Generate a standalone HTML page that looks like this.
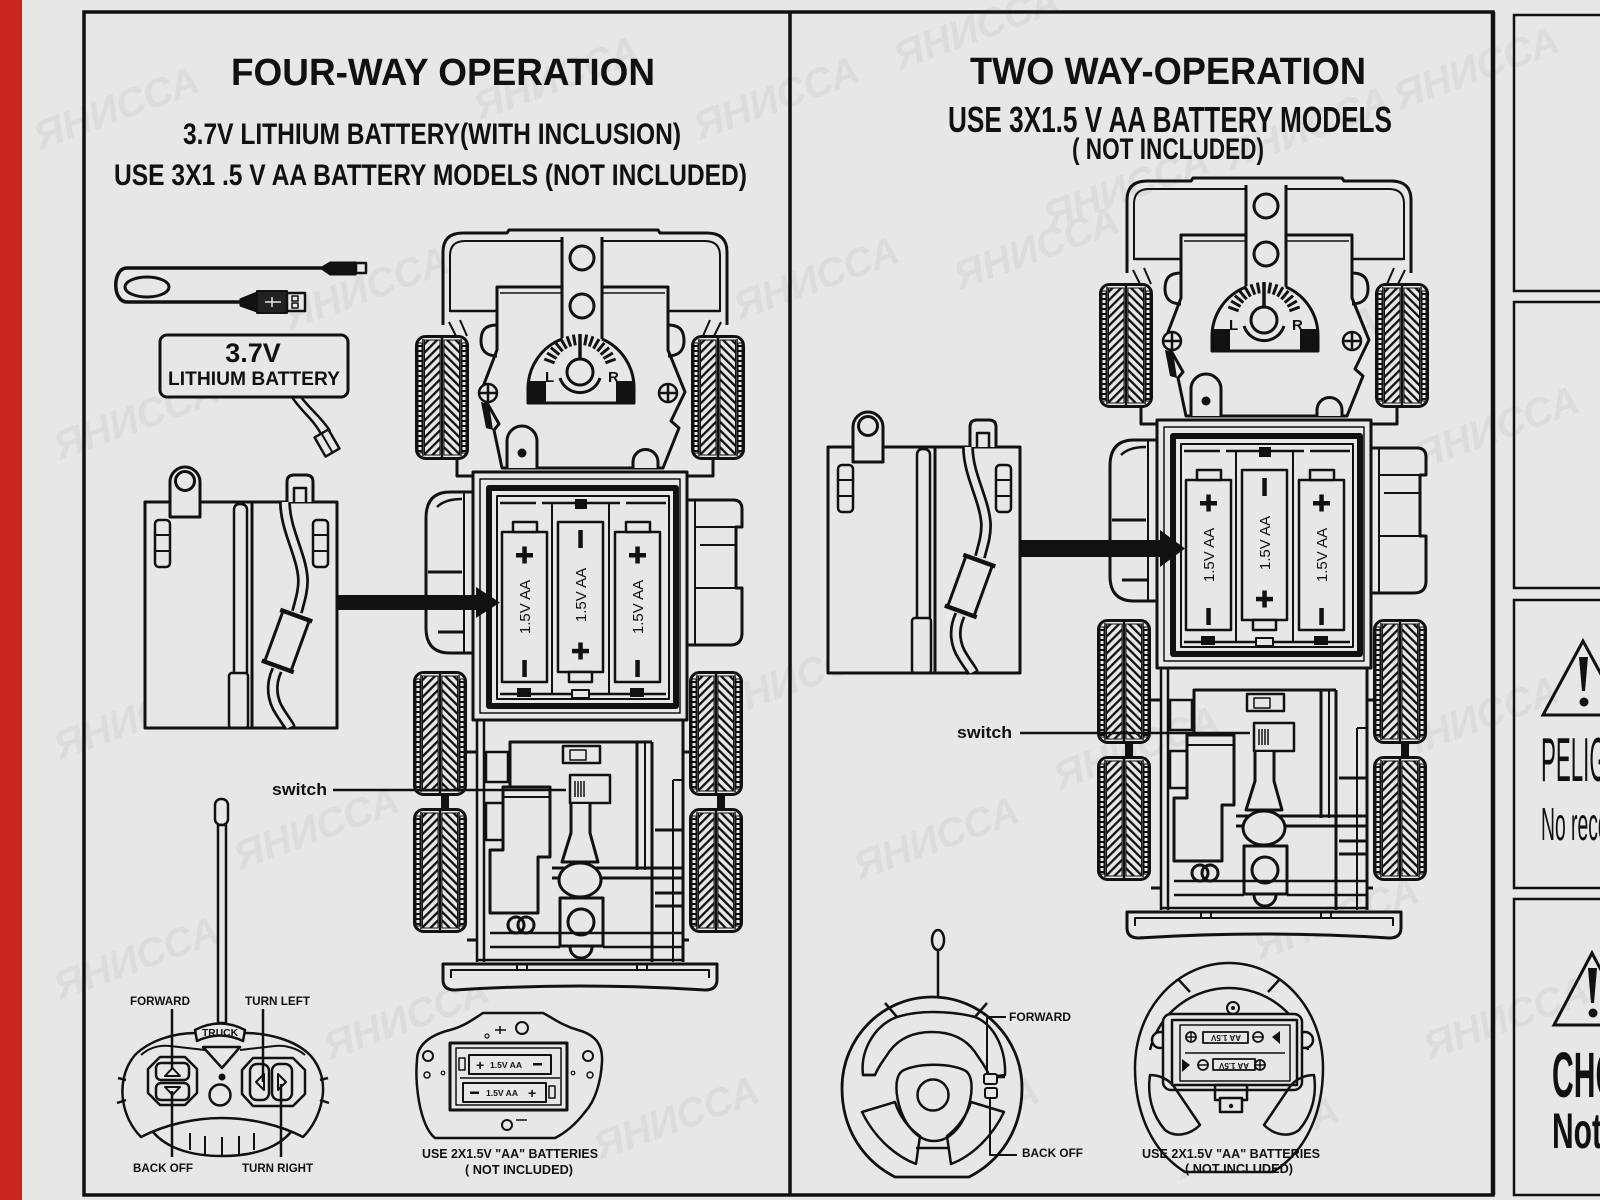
<!DOCTYPE html>
<html><head><meta charset="utf-8"><title>Four-way / Two-way operation</title>
<style>
html,body{margin:0;padding:0;background:#e7e7e5;}
svg{display:block;}
text{font-family:"Liberation Sans",Arial,sans-serif;}
</style></head><body>
<svg width="1600" height="1200" viewBox="0 0 1600 1200" xmlns="http://www.w3.org/2000/svg">
<defs>
<pattern id="hA" width="6" height="6" patternUnits="userSpaceOnUse" patternTransform="rotate(45)"><rect width="2.3" height="6" fill="#111"/></pattern>
<pattern id="hB" width="6" height="6" patternUnits="userSpaceOnUse" patternTransform="rotate(-45)"><rect width="2.3" height="6" fill="#111"/></pattern>
<pattern id="tk" width="6" height="5" patternUnits="userSpaceOnUse"><rect width="6" height="2" fill="#111"/></pattern>

<g id="wheel">
 <rect x="1.5" y="1.5" width="51" height="122" rx="9" fill="#e7e7e5" stroke="#111" stroke-width="3"/>
 <rect x="3" y="8" width="4" height="110" fill="url(#tk)"/>
 <rect x="47" y="8" width="4" height="110" fill="url(#tk)"/>
 <line x1="8" y1="4" x2="8" y2="121" stroke="#111" stroke-width="1.5"/>
 <line x1="46" y1="4" x2="46" y2="121" stroke="#111" stroke-width="1.5"/>
 <rect x="9.5" y="5" width="15.5" height="115" fill="url(#hA)"/>
 <rect x="29" y="5" width="15.5" height="115" fill="url(#hB)"/>
 <line x1="27" y1="3" x2="27" y2="122" stroke="#111" stroke-width="2.5"/>
</g>

<g id="truck" stroke="#111" fill="none" stroke-linejoin="round">
 <use href="#wheel" x="415" y="335"/>
 <use href="#wheel" x="691" y="335"/>
 <use href="#wheel" x="413" y="671"/>
 <use href="#wheel" x="413" y="808"/>
 <use href="#wheel" x="689" y="671"/>
 <use href="#wheel" x="689" y="808"/>
 <rect x="441" y="795" width="8" height="14" fill="#111" stroke="none"/>
 <rect x="717" y="795" width="8" height="14" fill="#111" stroke="none"/>
 <!-- hood -->
 <path d="M443,325 V252 Q443,233 463,233 H507 L509,230 H658 L660,233 H707 Q727,233 727,252 V325" stroke-width="3"/>
 <path d="M450,312 V256 Q450,241 465,241 H705 Q720,241 720,256 V312" stroke-width="2"/>
 <path d="M450,311 H497 M668,311 H720" stroke-width="2.5"/>
 <path d="M449,322 L456,336 M460,320 L467,336 M721,322 L714,336 M710,320 L703,336" stroke-width="2"/>
 <!-- body -->
 <path d="M497,287 H668 V350 L685,392 L671,421 L679,428 L663,468 H502 L494,430 L499,424 L481,392 L497,350 Z" fill="#e7e7e5" stroke-width="3"/>
 <path d="M500,293 H562 M603,293 H665" stroke-width="1.5"/>
 <path d="M497,325 C483,325 481,333 481,341 C481,349 485,356 497,356" stroke-width="3"/>
 <path d="M668,325 C682,325 684,333 684,341 C684,349 680,356 668,356" stroke-width="3"/>
 <polygon points="481,402 489,404 493,430 486,428" fill="#111" stroke="none"/>
 <!-- strip -->
 <rect x="562" y="236" width="40" height="106" fill="#e7e7e5" stroke="none"/>
 <path d="M562,237 V340 M602,237 V340" stroke-width="3"/>
 <circle cx="582" cy="258" r="12" stroke-width="3"/>
 <circle cx="582" cy="306" r="12" stroke-width="3"/>
 <!-- gauge housing -->
 <path d="M528,403 V388 A53,53 0 0 1 634,388 V403 Z" fill="#e7e7e5" stroke="none"/>
 <rect x="564" y="330" width="36" height="15" fill="#e7e7e5" stroke="none"/>
 <path d="M562,339 A53,53 0 0 0 528,388 V403 H634 V388 A53,53 0 0 0 602,339" stroke-width="3"/>
 <rect x="528" y="381" width="18" height="22" fill="#111" stroke="none"/>
 <rect x="616" y="381" width="18" height="22" fill="#111" stroke="none"/>
 <path d="M605.4,362.8 L615.7,359 M603.4,358.5 L612.9,353 M600.7,354.6 L609.1,347.6 M597.4,351.3 L604.4,342.9 M593.5,348.6 L599,339.1 M589.2,346.6 L593,336.3 M584.7,345.4 L586.6,334.6 M575.3,345.4 L573.4,334.6 M570.8,346.6 L567,336.3 M566.5,348.6 L561,339.1 M562.6,351.3 L555.6,342.9 M559.3,354.6 L550.9,347.6 M556.6,358.5 L547.1,353 M554.6,362.8 L544.3,359" stroke-width="3"/>
 <path d="M580,334 V359" stroke-width="3.5"/>
 <circle cx="580" cy="372" r="13" stroke-width="3"/>
 <path d="M560,378 A21,21 0 0 0 600,378" stroke-width="3"/>
 <text x="545" y="382" font-size="15" font-weight="bold" fill="#111" stroke="none">L</text>
 <text x="608" y="382" font-size="15" font-weight="bold" fill="#111" stroke="none">R</text>
 <!-- screws -->
 <circle cx="488" cy="393" r="9" fill="#e7e7e5" stroke-width="2.5"/>
 <path d="M480,393 H496 M488,385 V401" stroke-width="2.5"/>
 <circle cx="668" cy="393" r="9" fill="#e7e7e5" stroke-width="2.5"/>
 <path d="M660,393 H676 M668,385 V401" stroke-width="2.5"/>
 <!-- tabs -->
 <path d="M507,468 V441 A15,15 0 0 1 537,441 V468" fill="#e7e7e5" stroke-width="3"/>
 <circle cx="522" cy="453" r="4.5" fill="#111" stroke="none"/>
 <path d="M633,468 V462 A12.5,12.5 0 0 1 658,462 V468" fill="#e7e7e5" stroke-width="3"/>
 <path d="M457,460 V476 H473 M713,460 V476 H687" stroke-width="3"/>
 <!-- fender left -->
 <path d="M473,492 H450 Q426,492 426,518 V628 Q426,653 450,653 H473" fill="#e7e7e5" stroke-width="3"/>
 <path d="M437,507 Q445,499 462,499" stroke-width="2.5"/>
 <path d="M428,572 H462 M438,632 H463" stroke-width="3"/>
 <path d="M464,492 V653" stroke-width="2"/>
 <!-- right block -->
 <path d="M687,500 H733 Q742,500 742,509 V527 H736 V588 H742 V633 Q742,645 730,645 H687" fill="#e7e7e5" stroke-width="3"/>
 <path d="M695,527 H736 M695,588 H736 M695,500 V645 M700,545 H736" stroke-width="2"/>
 <!-- battery box -->
 <rect x="473" y="472" width="214" height="248" fill="#e7e7e5" stroke-width="3"/>
 <rect x="480" y="479" width="200" height="234" stroke-width="1.5"/>
 <rect x="489" y="488" width="187" height="218" stroke-width="6"/>
 <rect x="497" y="496" width="172" height="203" stroke-width="2"/>
 <path d="M500,503 H536 M542,503 H620 M626,503 H666" stroke-width="2.5"/>
 <rect x="575" y="499" width="12" height="10" fill="#111" stroke="none"/>
 <path d="M500,694 H666" stroke-width="2.5"/>
 <rect x="517" y="688" width="14" height="9" fill="#111" stroke="none"/>
 <rect x="630" y="688" width="14" height="9" fill="#111" stroke="none"/>
 <rect x="572" y="690" width="17" height="8" fill="#e7e7e5" stroke-width="2"/>
 <path d="M552,503 V694 M609,503 V694" stroke-width="2"/>
 <!-- batteries -->
 <rect x="502" y="532" width="45" height="150" fill="#e7e7e5" stroke-width="2.5"/>
 <rect x="513" y="522" width="24" height="10" fill="#e7e7e5" stroke-width="2.5"/>
 <rect x="558" y="522" width="45" height="150" fill="#e7e7e5" stroke-width="2.5"/>
 <rect x="569" y="672" width="23" height="10" fill="#e7e7e5" stroke-width="2.5"/>
 <rect x="615" y="532" width="45" height="150" fill="#e7e7e5" stroke-width="2.5"/>
 <rect x="626" y="522" width="24" height="10" fill="#e7e7e5" stroke-width="2.5"/>
 <g fill="#111" stroke="none">
  <rect x="516" y="553" width="17" height="4.5"/><rect x="522.3" y="546.5" width="4.5" height="17"/>
  <rect x="522.3" y="660" width="4.5" height="17"/>
  <rect x="578.3" y="530" width="4.5" height="18"/>
  <rect x="572" y="648.8" width="17" height="4.5"/><rect x="578.3" y="642.5" width="4.5" height="17"/>
  <rect x="629" y="553" width="17" height="4.5"/><rect x="635.3" y="546.5" width="4.5" height="17"/>
  <rect x="635.3" y="660" width="4.5" height="17"/>
  <text transform="translate(530,607) rotate(-90)" text-anchor="middle" font-size="15">1.5V AA</text>
  <text transform="translate(586,595) rotate(-90)" text-anchor="middle" font-size="15">1.5V AA</text>
  <text transform="translate(643,607) rotate(-90)" text-anchor="middle" font-size="15">1.5V AA</text>
 </g>
 <!-- lower chassis -->
 <path d="M477,720 V962 M484,720 V962" stroke-width="2.5"/>
 <path d="M683,720 V962" stroke-width="3"/>
 <path d="M510,790 V742 H652" stroke-width="3"/>
 <path d="M637,742 V870 M652,742 V962" stroke-width="3"/>
 <path d="M645,742 V870 M673,780 V962 M673,780 H683" stroke-width="2"/>
 <path d="M467,752 H477 M467,940 H477 M683,752 H689 M683,940 H689" stroke-width="3"/>
 <rect x="486" y="752" width="22" height="30" stroke-width="2.5"/>
 <rect x="486" y="803" width="22" height="37" stroke-width="2.5"/>
 <path d="M552,868 H683 M552,878 H683" stroke-width="3"/>
 <path d="M503,787 H550 V857 H538 V913 H490 V850 H503 Z" fill="#e7e7e5" stroke-width="3"/>
 <path d="M503,797 H550" stroke-width="2"/>
 <rect x="563" y="746" width="37" height="17" stroke-width="2.5"/>
 <rect x="570" y="750" width="16" height="10" stroke-width="1.5"/>
 <rect x="570" y="775" width="40" height="28" fill="#e7e7e5" stroke-width="2.5"/>
 <path d="M575,781 V797 M578,781 V797 M581,781 V797 M584,781 V797" stroke-width="1.5"/>
 <path d="M571,804 V833 L562,862 H598 L590,833 V804" fill="#e7e7e5" stroke-width="3"/>
 <ellipse cx="580" cy="880" rx="21" ry="17" fill="#e7e7e5" stroke-width="3"/>
 <rect x="560" y="898" width="43" height="48" fill="#e7e7e5" stroke-width="3"/>
 <circle cx="581" cy="922" r="13" stroke-width="3"/>
 <path d="M570,947 A11,11 0 0 0 592,947" stroke-width="3"/>
 <path d="M655,830 H683 M655,893 H683 M655,906 H683" stroke-width="3"/>
 <path d="M490,933 H683 M490,947 H560 M603,947 H683 M477,960 H683" stroke-width="2.5"/>
 <circle cx="516" cy="925" r="8" stroke-width="3"/><circle cx="526" cy="925" r="8" stroke-width="3"/>
 <!-- bumper -->
 <path d="M443,964 H717 V980 Q717,990 705,990 Q580,982 455,990 Q443,990 443,980 Z" fill="#e7e7e5" stroke-width="3"/>
 <path d="M451,978 V970 H709 V978" stroke-width="2"/>
 <path d="M517,964 V970 M527,964 V970 M637,964 V970 M647,964 V970" stroke-width="2"/>
</g>

<g id="holder" stroke="#111" fill="none" stroke-linejoin="round">
 <rect x="145" y="502" width="192" height="226" fill="#e7e7e5" stroke-width="3"/>
 <path d="M170,517 V482 A15,15 0 0 1 200,482 V517 Z" fill="#e7e7e5" stroke-width="3"/>
 <circle cx="185" cy="481" r="9.5" stroke-width="3"/>
 <path d="M287,502 V482 Q287,475 294,475 H306 Q313,475 313,482 V502" fill="#e7e7e5" stroke-width="3"/>
 <path d="M294,502 V488 H306 V502" stroke-width="2.5"/>
 <rect x="155" y="520" width="15" height="47" rx="4" stroke-width="2.5"/>
 <path d="M155,535 H170 M155,551 H170" stroke-width="2"/>
 <rect x="313" y="520" width="15" height="47" rx="4" stroke-width="2.5"/>
 <path d="M313,535 H328 M313,551 H328" stroke-width="2"/>
 <path d="M252,502 V728" stroke-width="3"/>
 <path d="M234,673 V510 Q234,504 240,504 Q247,504 247,510 V673" stroke-width="2.5"/>
 <rect x="229" y="673" width="19" height="55" rx="3" stroke-width="2.5"/>
 <path d="M285,502 C285,530 302,555 303,580 C303,592 300,600 297,612" stroke-width="12"/>
 <path d="M285,502 C285,530 302,555 303,580 C303,592 300,600 297,612" stroke="#e7e7e5" stroke-width="6.5"/>
 <path d="M277,670 C270,685 272,700 280,712 C285,720 289,725 290,728" stroke-width="12"/>
 <path d="M277,670 C270,685 272,700 280,712 C285,720 289,725 290,727" stroke="#e7e7e5" stroke-width="6.5"/>
 <g transform="translate(287,641) rotate(20)">
  <rect x="-14" y="-27" width="28" height="54" fill="#e7e7e5" stroke-width="3"/>
  <path d="M-17,-27 H17 M-17,27 H17" stroke-width="4.5"/>
 </g>
</g>
</defs>

<!-- background -->
<rect width="1600" height="1200" fill="#e7e7e5"/>
<g fill="#dcdcda" font-size="40" font-weight="bold" font-style="italic">
 <text transform="translate(40,150) rotate(-20)">ЯНИССА</text>
 <text transform="translate(290,330) rotate(-20)">ЯНИССА</text>
 <text transform="translate(480,120) rotate(-20)">ЯНИССА</text>
 <text transform="translate(700,140) rotate(-20)">ЯНИССА</text>
 <text transform="translate(900,70) rotate(-20)">ЯНИССА</text>
 <text transform="translate(1050,230) rotate(-20)">ЯНИССА</text>
 <text transform="translate(1230,170) rotate(-20)">ЯНИССА</text>
 <text transform="translate(1400,110) rotate(-20)">ЯНИССА</text>
 <text transform="translate(60,460) rotate(-20)">ЯНИССА</text>
 <text transform="translate(180,640) rotate(-20)">ЯНИССА</text>
 <text transform="translate(740,320) rotate(-20)">ЯНИССА</text>
 <text transform="translate(960,290) rotate(-20)">ЯНИССА</text>
 <text transform="translate(1220,390) rotate(-20)">ЯНИССА</text>
 <text transform="translate(1420,470) rotate(-20)">ЯНИССА</text>
 <text transform="translate(60,760) rotate(-20)">ЯНИССА</text>
 <text transform="translate(240,870) rotate(-20)">ЯНИССА</text>
 <text transform="translate(720,720) rotate(-20)">ЯНИССА</text>
 <text transform="translate(860,880) rotate(-20)">ЯНИССА</text>
 <text transform="translate(1060,790) rotate(-20)">ЯНИССА</text>
 <text transform="translate(1260,960) rotate(-20)">ЯНИССА</text>
 <text transform="translate(1400,760) rotate(-20)">ЯНИССА</text>
 <text transform="translate(60,1000) rotate(-20)">ЯНИССА</text>
 <text transform="translate(330,1060) rotate(-20)">ЯНИССА</text>
 <text transform="translate(600,1160) rotate(-20)">ЯНИССА</text>
 <text transform="translate(880,1160) rotate(-20)">ЯНИССА</text>
 <text transform="translate(1180,1180) rotate(-20)">ЯНИССА</text>
 <text transform="translate(1430,1060) rotate(-20)">ЯНИССА</text>
</g>

<!-- red strip -->
<rect x="0" y="0" width="22" height="1200" fill="#c9261f"/>

<!-- frames -->
<g fill="none" stroke="#111">
 <rect x="84" y="12" width="1409" height="1183" stroke-width="3.5"/>
 <line x1="790" y1="12" x2="790" y2="1195" stroke-width="3.5"/>
 <line x1="1493" y1="12" x2="1493" y2="1195" stroke-width="4.5"/>
 <rect x="1514" y="15" width="120" height="276" stroke-width="2.5"/>
 <rect x="1514" y="302" width="120" height="286" stroke-width="2.5"/>
 <rect x="1514" y="600" width="120" height="288" stroke-width="2.5"/>
 <rect x="1514" y="899" width="120" height="296" stroke-width="2.5"/>
</g>

<!-- right panel warning -->
<g>
 <polygon points="1583,641 1543,715 1623,715" fill="none" stroke="#111" stroke-width="3"/>
 <path d="M1579,657 H1588 L1585,691 H1582 Z" fill="#111"/>
 <circle cx="1584" cy="702" r="4.5" fill="#111"/>
 <text transform="translate(1541,781) scale(0.36,1)" font-size="62" fill="#111">PELIGRO</text>
 <text transform="translate(1541,840) scale(0.42,1)" font-size="46" fill="#111">No recomendado</text>
 <polygon points="1592,953 1554,1025 1630,1025" fill="none" stroke="#111" stroke-width="3"/>
 <path d="M1588,968 H1597 L1594,1003 H1591 Z" fill="#111"/>
 <circle cx="1593" cy="1013" r="4.5" fill="#111"/>
 <text transform="translate(1552,1097) scale(0.47,1)" font-size="64" font-weight="bold" fill="#111">CHOKING</text>
 <text transform="translate(1552,1148) scale(0.6,1)" font-size="50" font-weight="bold" fill="#111">Not for</text>
</g>

<!-- titles -->
<g fill="#111" font-weight="bold">
 <text x="231" y="85" font-size="38" textLength="424" lengthAdjust="spacingAndGlyphs">FOUR-WAY OPERATION</text>
 <text x="183" y="144" font-size="30" textLength="498" lengthAdjust="spacingAndGlyphs">3.7V LITHIUM BATTERY(WITH INCLUSION)</text>
 <text x="114" y="185" font-size="30" textLength="633" lengthAdjust="spacingAndGlyphs">USE 3X1 .5 V AA BATTERY MODELS (NOT INCLUDED)</text>
 <text x="970" y="84" font-size="38" textLength="396" lengthAdjust="spacingAndGlyphs">TWO WAY-OPERATION</text>
 <text x="948" y="132" font-size="36" textLength="444" lengthAdjust="spacingAndGlyphs">USE 3X1.5 V AA BATTERY MODELS</text>
 <text x="1072" y="159" font-size="30" textLength="192" lengthAdjust="spacingAndGlyphs">( NOT INCLUDED)</text>
</g>

<!-- trucks -->
<use href="#truck"/>
<use href="#truck" transform="translate(684,-52)"/>

<!-- holders + arrows -->
<use href="#holder"/>
<use href="#holder" transform="translate(683,-55)"/>
<rect x="337" y="595" width="145" height="15" fill="#111"/>
<polygon points="476,587 500,602.5 476,618" fill="#111"/>
<rect x="1020" y="540" width="145" height="17" fill="#111"/>
<polygon points="1160,530 1185,548.5 1160,567" fill="#111"/>

<!-- switch labels -->
<g fill="#111" font-weight="bold" font-size="17">
 <text x="272" y="795" textLength="55" lengthAdjust="spacingAndGlyphs">switch</text>
 <text x="957" y="738" textLength="55" lengthAdjust="spacingAndGlyphs">switch</text>
</g>
<path d="M333,790 H566 M1020,733 H1250" stroke="#111" stroke-width="2.5"/>

<!-- USB cable & lithium battery -->
<g stroke="#111" fill="none" stroke-linejoin="round">
 <path d="M330,268 H127 C112,268 112,302 127,302 H242" stroke-width="3.5"/>
 <ellipse cx="147" cy="287" rx="22" ry="10" stroke-width="3"/>
 <path d="M320,268 L330,262 H356 V275 H330 Z" fill="#111" stroke-width="1"/>
 <rect x="356" y="263" width="10" height="10" fill="#e7e7e5" stroke-width="2.5"/>
 <path d="M240,299 L257,292 V312 L240,306 Z" fill="#111" stroke-width="1"/>
 <rect x="257" y="291" width="30" height="22" fill="#222" stroke-width="2"/>
 <path d="M265,302 H281 M272,297 V307" stroke="#e7e7e5" stroke-width="1.5"/>
 <rect x="287" y="293" width="18" height="18" fill="#e7e7e5" stroke-width="2.5"/>
 <rect x="292" y="296" width="6" height="5" stroke-width="1.5"/>
 <rect x="292" y="303" width="6" height="5" stroke-width="1.5"/>
 <rect x="160" y="335" width="188" height="62" rx="7" fill="#e7e7e5" stroke-width="3"/>
 <path d="M292,397 C300,410 314,420 321,434 M301,397 C309,408 322,418 330,431" stroke-width="2.5"/>
 <g transform="translate(327,443) rotate(-30)">
  <rect x="-8" y="-11" width="16" height="22" fill="#e7e7e5" stroke-width="2.5"/>
  <path d="M0,-11 V11" stroke-width="2"/>
 </g>
</g>
<g fill="#111" font-weight="bold" text-anchor="middle">
 <text x="253" y="362" font-size="27">3.7V</text>
 <text x="254" y="385" font-size="19" textLength="172" lengthAdjust="spacingAndGlyphs">LITHIUM BATTERY</text>
</g>

<!-- Remote 1 (front) -->
<g stroke="#111" fill="none" stroke-linejoin="round">
 <rect x="215" y="799" width="13" height="26" rx="6" fill="#e7e7e5" stroke-width="2.5"/>
 <rect x="218" y="825" width="8" height="198" fill="#e7e7e5" stroke-width="2.5"/>
 <path d="M150,1128 C165,1150 195,1156 222,1156 C249,1156 279,1150 294,1128" fill="#e7e7e5" stroke-width="2.5"/>
 <path d="M190,1133 V1150 M205,1136 V1154 M222,1137 V1156 M239,1136 V1154 M254,1133 V1150" stroke-width="2"/>
 <path d="M135,1055 C150,1040 175,1033 195,1033 L245,1033 C268,1033 295,1040 310,1055 C322,1068 325,1085 322,1100 C319,1115 312,1128 303,1137 C280,1125 250,1118 222,1118 C194,1118 164,1125 141,1137 C132,1128 125,1115 123,1100 C121,1085 124,1068 135,1055 Z" fill="#e7e7e5" stroke-width="2.5"/>
 <path d="M126,1080 L118,1078 M126,1100 L117,1103 M320,1080 L328,1078 M320,1100 L329,1103" stroke-width="2.5"/>
 <path d="M141,1055 C150,1047 160,1045 170,1046 L205,1050 M240,1050 L275,1046 C285,1045 297,1048 305,1055" stroke-width="2"/>
 <path d="M195,1030 Q220,1017 245,1030 L243,1041 Q220,1030 197,1041 Z" fill="#e7e7e5" stroke-width="2.5"/>
 <path d="M203,1047 H240 L222,1068 Z" stroke-width="2.5"/>
 <circle cx="222" cy="1077" r="3.5" fill="#111" stroke="none"/>
 <circle cx="220" cy="1095" r="10.5" stroke-width="2.5"/>
 <polygon points="160,1057 185,1057 197,1069 197,1093 185,1105 160,1105 148,1093 148,1069" stroke-width="2.5"/>
 <rect x="156" y="1063" width="33" height="17" rx="5" stroke-width="2.5"/>
 <rect x="156" y="1083" width="33" height="17" rx="5" stroke-width="2.5"/>
 <polygon points="165,1076 180,1076 172.5,1068" fill="#e7e7e5" stroke-width="2"/>
 <polygon points="165,1087 180,1087 172.5,1095" fill="#e7e7e5" stroke-width="2"/>
 <polygon points="253,1058 293,1058 305,1070 305,1094 293,1106 253,1106 242,1094 242,1070" stroke-width="2.5"/>
 <rect x="250" y="1064" width="19" height="36" rx="7" stroke-width="2.5"/>
 <rect x="272" y="1064" width="20" height="36" rx="7" stroke-width="2.5"/>
 <polygon points="264,1074 264,1090 256,1082" fill="#e7e7e5" stroke-width="2"/>
 <polygon points="278,1074 278,1090 286,1082" fill="#e7e7e5" stroke-width="2"/>
 <path d="M172,1009 V1068 M172,1091 V1157 M263,1009 V1082 M281,1084 V1157" stroke-width="2.5"/>
</g>
<g fill="#111" font-weight="bold">
 <text x="220" y="1036" font-size="10" text-anchor="middle" textLength="36" lengthAdjust="spacingAndGlyphs">TRUCK</text>
 <text x="130" y="1005" font-size="12" textLength="60" lengthAdjust="spacingAndGlyphs">FORWARD</text>
 <text x="245" y="1005" font-size="12" textLength="65" lengthAdjust="spacingAndGlyphs">TURN LEFT</text>
 <text x="133" y="1172" font-size="12" textLength="60" lengthAdjust="spacingAndGlyphs">BACK OFF</text>
 <text x="242" y="1172" font-size="12" textLength="71" lengthAdjust="spacingAndGlyphs">TURN RIGHT</text>
</g>

<!-- Remote 1 (back) -->
<g stroke="#111" fill="none" stroke-linejoin="round">
 <path d="M417,1060 C417,1045 430,1035 450,1030 C465,1026 475,1018 483,1013 H543 C553,1018 563,1026 578,1030 C596,1035 603,1045 602,1062 C601,1080 596,1100 585,1112 C575,1125 565,1133 555,1138 H435 C425,1130 420,1110 418,1095 C416,1080 416,1070 417,1060 Z" fill="#e7e7e5" stroke-width="2.5"/>
 <rect x="450" y="1043" width="117" height="67" stroke-width="3"/>
 <rect x="456" y="1048" width="105" height="57" stroke-width="1.5"/>
 <path d="M460,1078 H560" stroke-width="1.5"/>
 <rect x="469" y="1055" width="82" height="19" fill="#e7e7e5" stroke-width="2"/>
 <rect x="463" y="1083" width="83" height="19" fill="#e7e7e5" stroke-width="2"/>
 <rect x="459" y="1058" width="6" height="12" stroke-width="1.5"/>
 <rect x="549" y="1086" width="6" height="12" stroke-width="1.5"/>
 <circle cx="428" cy="1056" r="5" stroke-width="2"/>
 <circle cx="588" cy="1056" r="5" stroke-width="2"/>
 <circle cx="427" cy="1075" r="3" stroke-width="1.5"/>
 <circle cx="590" cy="1075" r="3" stroke-width="1.5"/>
 <circle cx="443" cy="1073" r="1.8" stroke-width="1.2"/>
 <circle cx="573" cy="1073" r="1.8" stroke-width="1.2"/>
 <circle cx="487" cy="1036" r="2" stroke-width="1.2"/>
 <path d="M495,1030 H506 M500,1026 V1034" stroke-width="1.5"/>
 <circle cx="522" cy="1028" r="6" stroke-width="2"/>
 <circle cx="507" cy="1125" r="5" stroke-width="2"/>
 <path d="M516,1120 H527" stroke-width="1.5"/>
</g>
<g fill="#111" font-weight="bold">
 <text x="476" y="1070" font-size="14">+</text>
 <text x="490" y="1068" font-size="8.5" textLength="32" lengthAdjust="spacingAndGlyphs">1.5V AA</text>
 <rect x="533" y="1063" width="9" height="2.5"/>
 <rect x="470" y="1091.5" width="9" height="2.5"/>
 <text x="486" y="1096" font-size="8.5" textLength="32" lengthAdjust="spacingAndGlyphs">1.5V AA</text>
 <text x="528" y="1098" font-size="14">+</text>
 <text x="422" y="1158" font-size="12.5" textLength="176" lengthAdjust="spacingAndGlyphs">USE 2X1.5V "AA" BATTERIES</text>
 <text x="465" y="1174" font-size="12.5" textLength="108" lengthAdjust="spacingAndGlyphs">( NOT INCLUDED)</text>
</g>

<!-- Remote 2 (steering wheel) -->
<g stroke="#111" fill="none" stroke-linejoin="round">
 <ellipse cx="938" cy="940" rx="6" ry="10" stroke-width="2.5"/>
 <path d="M938,950 V998" stroke-width="2.5"/>
 <path d="M895,1177 C862,1160 842,1128 842,1088 C842,1038 882,997 932,997 C982,997 1022,1038 1022,1088 C1022,1128 1002,1160 969,1177 Z" fill="#e7e7e5" stroke-width="2.8"/>
 <path d="M885,1003 L897,1017 M987,1003 L975,1017" stroke-width="2.5"/>
 <path d="M863,1075 C860,1050 875,1025 897,1017 C910,1013 920,1012 932,1012 C944,1012 960,1013 975,1017 C995,1025 1006,1050 1005,1075 L990,1077 C985,1065 980,1060 975,1052 C965,1038 950,1032 932,1032 C914,1032 899,1038 889,1052 C884,1060 879,1065 875,1075 Z" stroke-width="2.5"/>
 <path d="M863,1075 H875 M990,1077 H1005" stroke-width="2.5"/>
 <path d="M904,1070 C920,1063 948,1063 964,1070 C973,1074 973,1090 969,1105 C963,1126 950,1141 934,1141 C918,1141 905,1126 899,1105 C895,1090 895,1074 904,1070 Z" stroke-width="2.5"/>
 <circle cx="933" cy="1095" r="15.5" stroke-width="2.5"/>
 <path d="M862,1112 L895,1102 C899,1115 908,1128 920,1136 L916,1164 C895,1156 874,1137 862,1112 Z" stroke-width="2.5"/>
 <path d="M1004,1112 L971,1102 C967,1115 958,1128 947,1136 L951,1164 C972,1156 992,1137 1004,1112 Z" stroke-width="2.5"/>
 <path d="M916,1148 H950" stroke-width="2.5"/>
 <rect x="984" y="1074" width="13" height="10" rx="2" fill="#e7e7e5" stroke-width="2"/>
 <rect x="985" y="1088" width="12" height="10" rx="2" fill="#e7e7e5" stroke-width="2"/>
 <path d="M987,1074 V1017 H1006 M990,1098 V1155 H1017" stroke-width="2"/>
</g>
<g fill="#111" font-weight="bold">
 <text x="1009" y="1021" font-size="12" textLength="62" lengthAdjust="spacingAndGlyphs">FORWARD</text>
 <text x="1022" y="1157" font-size="12" textLength="61" lengthAdjust="spacingAndGlyphs">BACK OFF</text>
</g>

<!-- Remote 2 (back) -->
<g stroke="#111" fill="none" stroke-linejoin="round">
 <path d="M1185,1172 C1150,1150 1135,1110 1135,1068 C1135,1008 1178,963 1229,963 C1280,963 1323,1008 1323,1068 C1323,1110 1308,1150 1273,1172 Z" fill="#e7e7e5" stroke-width="2.5"/>
 <path d="M1150,1050 C1160,1010 1195,988 1229,988 C1263,988 1298,1010 1308,1050" stroke-width="2.5"/>
 <path d="M1178,979 L1190,992 M1280,979 L1268,992" stroke-width="2.5"/>
 <circle cx="1160" cy="1040" r="8" fill="#e7e7e5" stroke-width="2.5"/>
 <circle cx="1305" cy="1040" r="8" fill="#e7e7e5" stroke-width="2.5"/>
 <rect x="1163" y="1014" width="139" height="76" rx="8" fill="#e7e7e5" stroke-width="2.5"/>
 <rect x="1172" y="1020" width="125" height="65" stroke-width="2.5"/>
 <rect x="1180" y="1025" width="110" height="56" stroke-width="1.5"/>
 <path d="M1185,1053 H1285" stroke-width="1.5"/>
 <rect x="1203" y="1032" width="45" height="11" stroke-width="1.8"/>
 <circle cx="1191" cy="1037" r="5" stroke-width="1.8"/>
 <path d="M1186,1037 H1196 M1191,1032 V1042" stroke-width="1.5"/>
 <circle cx="1258" cy="1037" r="5" stroke-width="1.8"/>
 <path d="M1253,1037 H1263" stroke-width="1.5"/>
 <rect x="1213" y="1059" width="42" height="11" stroke-width="1.8"/>
 <circle cx="1203" cy="1065" r="5" stroke-width="1.8"/>
 <path d="M1198,1065 H1208" stroke-width="1.5"/>
 <circle cx="1260" cy="1065" r="5" stroke-width="1.8"/>
 <path d="M1255,1065 H1265 M1260,1060 V1070" stroke-width="1.5"/>
 <polygon points="1272,1037 1280,1031 1280,1044" fill="#111" stroke="none"/>
 <polygon points="1190,1065 1182,1059 1182,1072" fill="#111" stroke="none"/>
 <circle cx="1233" cy="1008" r="6" stroke-width="2"/>
 <circle cx="1233" cy="1008" r="2" fill="#111" stroke="none"/>
 <rect x="1215" y="1085" width="32" height="15" stroke-width="2.5"/>
 <rect x="1220" y="1098" width="22" height="14" fill="#e7e7e5" stroke-width="2.5"/>
 <circle cx="1231" cy="1106" r="2.2" fill="#111" stroke="none"/>
 <path d="M1150,1075 C1160,1075 1170,1080 1175,1088 L1200,1125 C1190,1135 1175,1138 1165,1130 C1152,1115 1147,1095 1150,1075 Z" stroke-width="2.5"/>
 <path d="M1314,1075 C1304,1075 1294,1080 1289,1088 L1264,1125 C1274,1135 1289,1138 1299,1130 C1312,1115 1317,1095 1314,1075 Z" stroke-width="2.5"/>
</g>
<g fill="#111" font-weight="bold">
 <text transform="translate(1226,1035) rotate(180)" font-size="8" text-anchor="middle">AA 1.5V</text>
 <text transform="translate(1234,1063) rotate(180)" font-size="8" text-anchor="middle">AA 1.5V</text>
 <text x="1142" y="1158" font-size="12.5" textLength="178" lengthAdjust="spacingAndGlyphs">USE 2X1.5V "AA" BATTERIES</text>
 <text x="1185" y="1173" font-size="12.5" textLength="108" lengthAdjust="spacingAndGlyphs">( NOT INCLUDED)</text>
</g>
</svg>
</body></html>
